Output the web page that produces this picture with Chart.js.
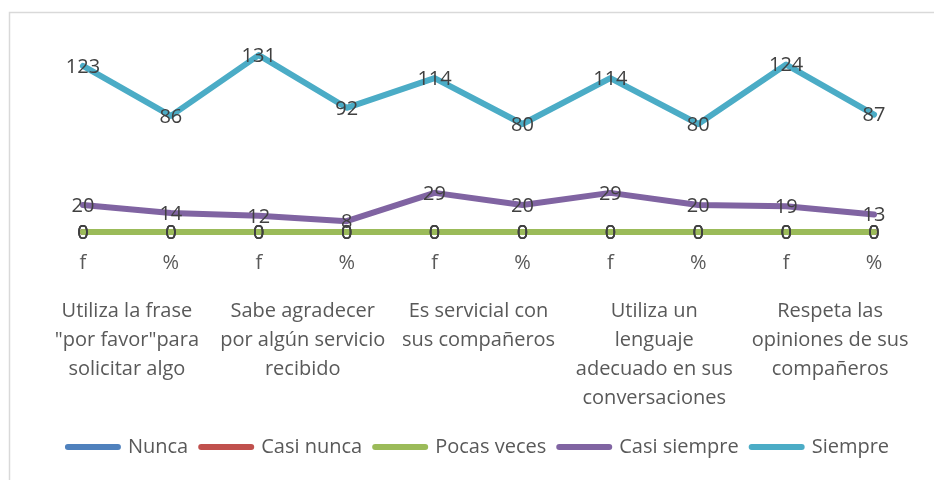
<!DOCTYPE html>
<html><head><meta charset="utf-8">
<script src="https://cdn.jsdelivr.net/npm/chart.js@4/dist/chart.umd.min.js"></script>
<style>html,body{margin:0;padding:0;background:#fff;overflow:hidden}#wrap{width:934px;height:480px;position:relative}</style>
</head><body><div id="wrap"><canvas id="c" width="934" height="480"></canvas></div>
<script>
const categories = ['f','%','f','%','f','%','f','%','f','%'];
const groups = [
  ['Utiliza la frase','"por favor"para','solicitar algo'],
  ['Sabe agradecer','por algún servicio','recibido'],
  ['Es servicial con','sus compañeros'],
  ['Utiliza un','lenguaje','adecuado en sus','conversaciones'],
  ['Respeta las','opiniones de sus','compañeros']
];
const seriesNames = ['Nunca','Casi nunca','Pocas veces','Casi siempre','Siempre'];
const nunca       = [0,0,0,0,0,0,0,0,0,0];
const casiNunca   = [0,0,0,0,0,0,0,0,0,0];
const pocasVeces  = [0,0,0,0,0,0,0,0,0,0];
const casiSiempre = [20,14,12,8,29,20,29,20,19,13];
const siempre     = [123,86,131,92,114,80,114,80,124,87];

const colors = ['#4F81BD','#C0504D','#9BBB59','#8064A2','#4BACC6'];
const drawOrder = [3,2,1,1,1];
const values = [nunca, casiNunca, pocasVeces, casiSiempre, siempre];

Chart.defaults.font.family = "'Open Sans', sans-serif";
Chart.defaults.font.size = 20;

const borderPlugin = {
  id: 'frame',
  beforeDraw(chart) {
    const ctx = chart.ctx;
    ctx.save();
    ctx.strokeStyle = '#d9d9d9';
    ctx.lineWidth = 1.5;
    ctx.strokeRect(9.5, 12.5, 1000, 1000);
    ctx.restore();
  }
};

const labelPlugin = {
  id: 'valueLabels',
  afterDatasetsDraw(chart) {
    const ctx = chart.ctx;
    ctx.save();
    ctx.font = "20px 'Open Sans', sans-serif";
    ctx.fillStyle = '#404040';
    ctx.textAlign = 'center';
    ctx.textBaseline = 'middle';
    chart.data.datasets.forEach((ds, i) => {
      const meta = chart.getDatasetMeta(i);
      meta.data.forEach((pt, j) => {
        ctx.fillText(String(ds.data[j]), pt.x, pt.y + 1);
      });
    });
    ctx.restore();
  }
};

new Chart(document.getElementById('c'), {
  type: 'line',
  data: {
    labels: categories,
    datasets: seriesNames.map((name, i) => ({
      label: name,
      data: values[i],
      borderColor: colors[i],
      backgroundColor: colors[i],
      borderWidth: 6,
      borderCapStyle: 'round',
      borderJoinStyle: 'round',
      pointRadius: 0,
      pointHoverRadius: 0,
      tension: 0,
      clip: false,
      order: drawOrder[i]
    }))
  },
  options: {
    responsive: false,
    animation: false,
    events: [],
    layout: { padding: { top: 43, left: 39, right: 16, bottom: 13 } },
    plugins: {
      tooltip: { enabled: false },
      legend: {
        position: 'bottom',
        labels: {
          usePointStyle: true,
          pointStyle: 'line',
          pointStyleWidth: 50,
          padding: 13,
          color: '#595959',
          font: { size: 20 },
          sort: (a, b) => a.datasetIndex - b.datasetIndex,
          generateLabels(chart) {
            const items = Chart.defaults.plugins.legend.labels.generateLabels(chart);
            items.forEach(it => { it.lineCap = 'round'; it.lineWidth = 6; });
            return items;
          }
        }
      }
    },
    scales: {
      y: { display: false, min: 0, max: 140 },
      x: {
        offset: true,
        grid: { display: false, drawTicks: false },
        border: { display: false },
        ticks: { color: '#595959', padding: 19, font: { size: 20 }, maxRotation: 0, autoSkip: false },
        afterFit(s) { s.height = 48; }
      },
      x2: {
        type: 'category',
        position: 'bottom',
        labels: groups,
        offset: true,
        grid: { display: false, drawTicks: false },
        border: { display: false },
        ticks: { color: '#595959', padding: 17, font: { size: 20, lineHeight: 1.45 }, maxRotation: 0, autoSkip: false },
        afterFit(s) { s.height = 144; }
      }
    }
  },
  plugins: [borderPlugin, labelPlugin]
});
</script></body></html>
